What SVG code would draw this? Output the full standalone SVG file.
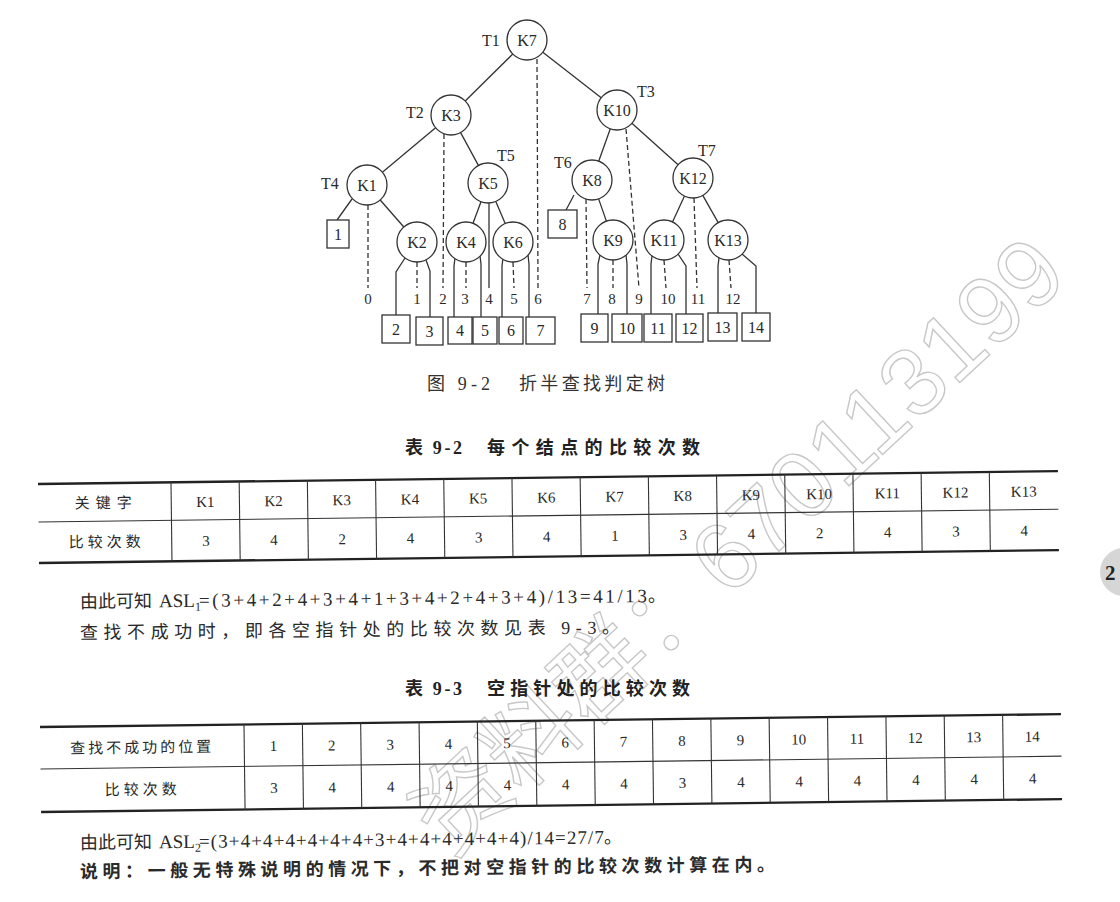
<svg xmlns="http://www.w3.org/2000/svg" width="1120" height="902" viewBox="0 0 1120 902">
<style>
.n{fill:#fff;stroke:#333;stroke-width:1.3}
.bx{fill:#fff;stroke:#333;stroke-width:1.3}
.e{stroke:#333;stroke-width:1.3;fill:none}
.d{stroke:#333;stroke-width:1.3;stroke-dasharray:5 3;fill:none}
.k{font-family:"Liberation Serif","Times New Roman",serif;font-size:16px;fill:#2a2a2a;text-anchor:middle}
.lb{font-family:"Liberation Serif","Times New Roman",serif;font-size:15px;fill:#2a2a2a;text-anchor:middle}
.tl{font-family:"Liberation Serif","Times New Roman",serif;font-size:16px;fill:#2a2a2a}
.cap{font-family:"Liberation Serif","Noto Sans CJK SC",serif;font-size:18px;fill:#333}
.hd{font-family:"Liberation Serif","Noto Sans CJK SC",sans-serif;font-size:18px;font-weight:bold;fill:#222}
.body{font-family:"Liberation Serif","Noto Sans CJK SC",serif;font-size:18px;fill:#2a2a2a}
.lat{font-family:"Liberation Serif","Times New Roman",serif;font-size:19px;fill:#2a2a2a}
.tc{font-family:"Liberation Serif","Noto Sans CJK SC",serif;font-size:15px;fill:#2a2a2a;text-anchor:middle}
.thick{stroke:#222;stroke-width:2.3}
.thin{stroke:#333;stroke-width:1.1}
.wm{font-family:"Liberation Sans","Noto Sans CJK SC",sans-serif;fill:none;stroke:#c8c8c8;stroke-width:1.4}
</style>

<!-- watermark -->
<text class="wm" font-size="95" transform="translate(450,858) rotate(-43)">资料群：670113199</text>

<!-- connectors -->
<g id="connectors">
  <line class="e" x1="512.8" y1="54" x2="465.2" y2="101"/>
  <line class="e" x1="542.8" y1="52.3" x2="601.2" y2="97.7"/>
  <line class="e" x1="435.6" y1="127.8" x2="382.4" y2="172.2"/>
  <line class="e" x1="460.6" y1="132.6" x2="478.4" y2="165.4"/>
  <line class="e" x1="610.3" y1="128.8" x2="598.7" y2="161.2"/>
  <line class="e" x1="631.9" y1="123.3" x2="678.1" y2="164.7"/>
  <line class="e" x1="352" y1="199" x2="337" y2="220"/>
  <line class="e" x1="380.2" y1="200" x2="403.8" y2="227"/>
  <line class="e" x1="481" y1="201.7" x2="473" y2="223.3"/>
  <line class="e" x1="495.8" y1="201.4" x2="505.2" y2="223.6"/>
  <line class="e" x1="489" y1="203" x2="489" y2="288"/>
  <line class="e" x1="574" y1="195" x2="566" y2="210"/>
  <line class="e" x1="598.6" y1="198.9" x2="606.4" y2="221.1"/>
  <line class="e" x1="684.5" y1="196.1" x2="672.5" y2="221.9"/>
  <line class="e" x1="702.8" y1="195.4" x2="718.2" y2="222.6"/>
  <polyline class="e" points="405,258 396,272 396,315"/>
  <polyline class="e" points="426,260 430,271 430,318"/>
  <polyline class="e" points="455,258 454,266 454,317"/>
  <polyline class="e" points="480,256 481,264 481,317"/>
  <polyline class="e" points="503,258 502,266 502,317"/>
  <polyline class="e" points="528,255 529,264 529,317"/>
  <polyline class="e" points="600,255 598,264 598,314"/>
  <polyline class="e" points="626,255 627,264 627,314"/>
  <polyline class="e" points="652,256 651,264 651,314"/>
  <polyline class="e" points="678,254 686,266 686,314"/>
  <polyline class="e" points="719,258 718,266 718,313"/>
  <polyline class="e" points="742,254 756,266 756,313"/>
  <line class="d" x1="537" y1="59" x2="538" y2="288"/>
  <line class="d" x1="444" y1="134" x2="443" y2="288"/>
  <line class="d" x1="368" y1="205" x2="368" y2="288"/>
  <line class="d" x1="626" y1="129" x2="639" y2="288"/>
  <line class="d" x1="586" y1="199" x2="587" y2="288"/>
  <line class="d" x1="694" y1="198" x2="697" y2="288"/>
  <line class="d" x1="417" y1="262" x2="417" y2="288"/>
  <line class="d" x1="466" y1="262" x2="466" y2="288"/>
  <line class="d" x1="513" y1="262" x2="514" y2="288"/>
  <line class="d" x1="613" y1="260" x2="613" y2="288"/>
  <line class="d" x1="664" y1="260" x2="666" y2="288"/>
  <line class="d" x1="729" y1="260" x2="731" y2="288"/>
  <text class="lb" x="368" y="304">0</text>
  <text class="lb" x="417" y="304">1</text>
  <text class="lb" x="443" y="304">2</text>
  <text class="lb" x="465" y="304">3</text>
  <text class="lb" x="489" y="304">4</text>
  <text class="lb" x="514" y="304">5</text>
  <text class="lb" x="538" y="304">6</text>
  <text class="lb" x="587" y="304">7</text>
  <text class="lb" x="612" y="304">8</text>
  <text class="lb" x="639" y="304">9</text>
  <text class="lb" x="668" y="304">10</text>
  <text class="lb" x="698" y="304">11</text>
  <text class="lb" x="733" y="304">12</text>
</g>

<g id="tlabels">
  <text class="tl" x="482" y="46">T1</text>
  <text class="tl" x="406" y="118">T2</text>
  <text class="tl" x="637" y="97">T3</text>
  <text class="tl" x="321" y="189">T4</text>
  <text class="tl" x="497" y="161">T5</text>
  <text class="tl" x="554" y="168">T6</text>
  <text class="tl" x="698" y="156">T7</text>
</g>

<g id="K7"><circle class="n" cx="527" cy="40" r="20"/><text class="k" x="527" y="46">K7</text></g>
<g id="K3"><circle class="n" cx="451" cy="115" r="20"/><text class="k" x="451" y="121">K3</text></g>
<g id="K10"><circle class="n" cx="617" cy="110" r="20"/><text class="k" x="617" y="116">K10</text></g>
<g id="K1"><circle class="n" cx="367" cy="185" r="20"/><text class="k" x="367" y="191">K1</text></g>
<g id="K5"><circle class="n" cx="488" cy="183" r="20"/><text class="k" x="488" y="189">K5</text></g>
<g id="K8"><circle class="n" cx="592" cy="180" r="20"/><text class="k" x="592" y="186">K8</text></g>
<g id="K12"><circle class="n" cx="693" cy="178" r="20"/><text class="k" x="693" y="184">K12</text></g>
<g id="K2"><circle class="n" cx="417" cy="242" r="20"/><text class="k" x="417" y="248">K2</text></g>
<g id="K4"><circle class="n" cx="466" cy="242" r="20"/><text class="k" x="466" y="248">K4</text></g>
<g id="K6"><circle class="n" cx="513" cy="242" r="20"/><text class="k" x="513" y="248">K6</text></g>
<g id="K9"><circle class="n" cx="613" cy="240" r="20"/><text class="k" x="613" y="246">K9</text></g>
<g id="K11"><circle class="n" cx="664" cy="240" r="20"/><text class="k" x="664" y="246">K11</text></g>
<g id="K13"><circle class="n" cx="728" cy="240" r="20"/><text class="k" x="728" y="246">K13</text></g>

<g id="E1"><rect class="bx" x="327" y="220" width="22" height="28"/><text class="k" x="338" y="240">1</text></g>
<g id="E8"><rect class="bx" x="548" y="210" width="29" height="28"/><text class="k" x="562.5" y="230">8</text></g>
<g id="E2"><rect class="bx" x="382" y="315" width="28" height="28"/><text class="k" x="396" y="335">2</text></g>
<g id="E3"><rect class="bx" x="416" y="317" width="27" height="28"/><text class="k" x="429.5" y="337">3</text></g>
<g id="E4"><rect class="bx" x="448" y="317" width="24" height="27"/><text class="k" x="460" y="336">4</text></g>
<g id="E5"><rect class="bx" x="473" y="317" width="24" height="27"/><text class="k" x="485" y="336">5</text></g>
<g id="E6"><rect class="bx" x="499" y="317" width="24" height="27"/><text class="k" x="511" y="336">6</text></g>
<g id="E7"><rect class="bx" x="526" y="317" width="29" height="27"/><text class="k" x="540.5" y="336">7</text></g>
<g id="E9"><rect class="bx" x="581" y="314" width="27" height="28"/><text class="k" x="594.5" y="334">9</text></g>
<g id="E10"><rect class="bx" x="612" y="314" width="30" height="28"/><text class="k" x="627" y="334">10</text></g>
<g id="E11"><rect class="bx" x="644" y="314" width="28" height="28"/><text class="k" x="658" y="334">11</text></g>
<g id="E12"><rect class="bx" x="676" y="314" width="27" height="28"/><text class="k" x="689.5" y="334">12</text></g>
<g id="E13"><rect class="bx" x="708" y="313" width="29" height="28"/><text class="k" x="722.5" y="333">13</text></g>
<g id="E14"><rect class="bx" x="742" y="313" width="28" height="28"/><text class="k" x="756" y="333">14</text></g>

<text class="cap" x="427" y="390" textLength="63" lengthAdjust="spacing">图 9-2</text>
<text class="cap" x="519" y="390" textLength="146" lengthAdjust="spacing">折半查找判定树</text>

<text class="hd" x="405" y="454" textLength="57" lengthAdjust="spacing">表 9-2</text>
<text class="hd" x="487" y="454" textLength="213" lengthAdjust="spacing">每个结点的比较次数</text>
<g id="table92" transform="translate(38,484) rotate(-0.72)">
  <line class="thick" x1="0" y1="0" x2="1020" y2="0"/>
  <line class="thin" x1="0" y1="38" x2="1020" y2="38"/>
  <line class="thick" x1="0" y1="79" x2="1020" y2="79"/>
  <g class="thin">
    <line x1="133" y1="0" x2="133" y2="79"/><line x1="201.2" y1="0" x2="201.2" y2="79"/>
    <line x1="269.4" y1="0" x2="269.4" y2="79"/><line x1="337.6" y1="0" x2="337.6" y2="79"/>
    <line x1="405.8" y1="0" x2="405.8" y2="79"/><line x1="474" y1="0" x2="474" y2="79"/>
    <line x1="542.2" y1="0" x2="542.2" y2="79"/><line x1="610.4" y1="0" x2="610.4" y2="79"/>
    <line x1="678.6" y1="0" x2="678.6" y2="79"/><line x1="746.8" y1="0" x2="746.8" y2="79"/>
    <line x1="815" y1="0" x2="815" y2="79"/><line x1="883.2" y1="0" x2="883.2" y2="79"/>
    <line x1="951.4" y1="0" x2="951.4" y2="79"/>
  </g>
  <text class="tc" x="68" y="25" letter-spacing="6">关键字</text>
  <text class="tc" x="68" y="64" letter-spacing="4">比较次数</text>
  <text class="tc" x="167.1" y="25">K1</text><text class="tc" x="235.3" y="25">K2</text>
  <text class="tc" x="303.5" y="25">K3</text><text class="tc" x="371.7" y="25">K4</text>
  <text class="tc" x="439.9" y="25">K5</text><text class="tc" x="508.1" y="25">K6</text>
  <text class="tc" x="576.3" y="25">K7</text><text class="tc" x="644.5" y="25">K8</text>
  <text class="tc" x="712.7" y="25">K9</text><text class="tc" x="780.9" y="25">K10</text>
  <text class="tc" x="849.1" y="25">K11</text><text class="tc" x="917.3" y="25">K12</text>
  <text class="tc" x="985.5" y="25">K13</text>
  <text class="tc" x="167.1" y="64">3</text><text class="tc" x="235.3" y="64">4</text>
  <text class="tc" x="303.5" y="64">2</text><text class="tc" x="371.7" y="64">4</text>
  <text class="tc" x="439.9" y="64">3</text><text class="tc" x="508.1" y="64">4</text>
  <text class="tc" x="576.3" y="64">1</text><text class="tc" x="644.5" y="64">3</text>
  <text class="tc" x="712.7" y="64">4</text><text class="tc" x="780.9" y="64">2</text>
  <text class="tc" x="849.1" y="64">4</text><text class="tc" x="917.3" y="64">3</text>
  <text class="tc" x="985.5" y="64">4</text>
</g>

<g id="para1" transform="rotate(-0.6,80,608)">
  <text class="body" x="80" y="608" textLength="72" lengthAdjust="spacing">由此可知</text>
  <text class="lat" x="159" y="608">ASL<tspan font-size="12" dy="4">1</tspan></text>
  <text class="lat" x="199" y="608" textLength="448" lengthAdjust="spacing">=(3+4+2+4+3+4+1+3+4+2+4+3+4)/13=41/13</text>
  <text class="body" x="648" y="608">。</text>
</g>
<text class="body" x="80" y="639" textLength="540" lengthAdjust="spacing" transform="rotate(-0.6,80,639)">查找不成功时，即各空指针处的比较次数见表 9-3。</text>

<text class="hd" x="405" y="695" textLength="57" lengthAdjust="spacing">表 9-3</text>
<text class="hd" x="487" y="695" textLength="203" lengthAdjust="spacing">空指针处的比较次数</text>
<g id="table93" transform="translate(40,727) rotate(-0.72)">
  <line class="thick" x1="0" y1="0" x2="1021" y2="0"/>
  <line class="thin" x1="0" y1="42" x2="1021" y2="42"/>
  <line class="thick" x1="0" y1="85" x2="1021" y2="85"/>
  <g class="thin">
    <line x1="204" y1="0" x2="204" y2="85"/><line x1="262.4" y1="0" x2="262.4" y2="85"/>
    <line x1="320.7" y1="0" x2="320.7" y2="85"/><line x1="379.1" y1="0" x2="379.1" y2="85"/>
    <line x1="437.4" y1="0" x2="437.4" y2="85"/><line x1="495.8" y1="0" x2="495.8" y2="85"/>
    <line x1="554.2" y1="0" x2="554.2" y2="85"/><line x1="612.5" y1="0" x2="612.5" y2="85"/>
    <line x1="670.9" y1="0" x2="670.9" y2="85"/><line x1="729.2" y1="0" x2="729.2" y2="85"/>
    <line x1="787.6" y1="0" x2="787.6" y2="85"/><line x1="846" y1="0" x2="846" y2="85"/>
    <line x1="904.3" y1="0" x2="904.3" y2="85"/><line x1="962.7" y1="0" x2="962.7" y2="85"/>
  </g>
  <text class="tc" x="102" y="27" letter-spacing="3">查找不成功的位置</text>
  <text class="tc" x="102" y="69" letter-spacing="4">比较次数</text>
  <text class="tc" x="233.2" y="27">1</text><text class="tc" x="291.5" y="27">2</text>
  <text class="tc" x="349.9" y="27">3</text><text class="tc" x="408.3" y="27">4</text>
  <text class="tc" x="466.6" y="27">5</text><text class="tc" x="525" y="27">6</text>
  <text class="tc" x="583.3" y="27">7</text><text class="tc" x="641.7" y="27">8</text>
  <text class="tc" x="700.1" y="27">9</text><text class="tc" x="758.4" y="27">10</text>
  <text class="tc" x="816.8" y="27">11</text><text class="tc" x="875.1" y="27">12</text>
  <text class="tc" x="933.5" y="27">13</text><text class="tc" x="991.9" y="27">14</text>
  <text class="tc" x="233.2" y="69">3</text><text class="tc" x="291.5" y="69">4</text>
  <text class="tc" x="349.9" y="69">4</text><text class="tc" x="408.3" y="69">4</text>
  <text class="tc" x="466.6" y="69">4</text><text class="tc" x="525" y="69">4</text>
  <text class="tc" x="583.3" y="69">4</text><text class="tc" x="641.7" y="69">3</text>
  <text class="tc" x="700.1" y="69">4</text><text class="tc" x="758.4" y="69">4</text>
  <text class="tc" x="816.8" y="69">4</text><text class="tc" x="875.1" y="69">4</text>
  <text class="tc" x="933.5" y="69">4</text><text class="tc" x="991.9" y="69">4</text>
</g>

<g id="para2" transform="rotate(-0.6,80,849)">
  <text class="body" x="80" y="849" textLength="72" lengthAdjust="spacing">由此可知</text>
  <text class="lat" x="159" y="849">ASL<tspan font-size="12" dy="4">2</tspan></text>
  <text class="lat" x="199" y="849" textLength="405" lengthAdjust="spacing">=(3+4+4+4+4+4+4+3+4+4+4+4+4+4)/14=27/7</text>
  <text class="body" x="604" y="849">。</text>
</g>
<text class="body" x="80" y="878" font-weight="bold" textLength="695" lengthAdjust="spacing" transform="rotate(-0.6,80,878)">说明：一般无特殊说明的情况下，不把对空指针的比较次数计算在内。</text>

<circle cx="1124" cy="572" r="24" fill="#d6d6d6"/>
<text x="1105" y="580" font-family="Liberation Serif,serif" font-weight="bold" font-size="21" fill="#222">2</text>
</svg>
